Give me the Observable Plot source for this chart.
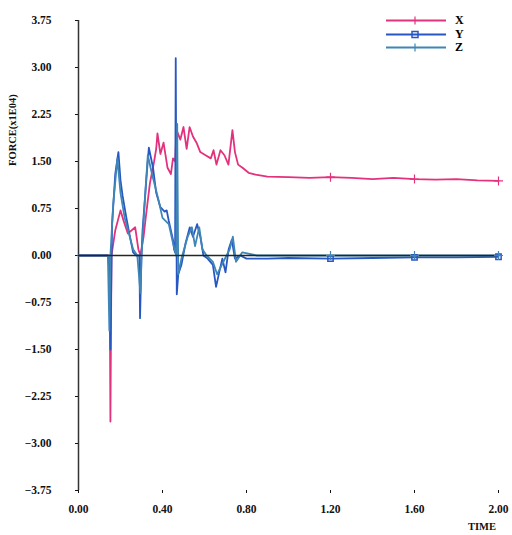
<!DOCTYPE html>
<html>
<head>
<meta charset="utf-8">
<script src="https://cdn.jsdelivr.net/npm/d3@7"></script>
<script src="https://cdn.jsdelivr.net/npm/@observablehq/plot@0.6"></script>
<style>
  html, body { margin: 0; padding: 0; background: #fff; }
  #wrap { position: relative; width: 512px; height: 535px; }
  #legend { position: absolute; left: 385px; top: 14px; font: bold 12px "Liberation Serif", serif; }
  #legend .row { display: flex; align-items: center; height: 13.5px; }
  #legend span { margin-left: 8px; }
</style>
</head>
<body>
<div id="wrap"><div id="legend"></div></div>
<script>
// ---- data (time in s, force in 1E04) ----
const seriesNames = ["X", "Y", "Z"];
const seriesColors = ["#e3327d", "#2857c4", "#3f86b6"];
const markerSymbols = ["plus", "square", "plus"];

const timeX = [0, 0.14, 0.148, 0.152, 0.157, 0.175, 0.20, 0.215, 0.235, 0.27, 0.285, 0.295, 0.31, 0.32, 0.34, 0.36, 0.37, 0.376, 0.39, 0.405, 0.424, 0.44, 0.45, 0.46, 0.467, 0.485, 0.50, 0.515, 0.529, 0.545, 0.562, 0.58, 0.605, 0.63, 0.643, 0.657, 0.676, 0.695, 0.714, 0.733, 0.745, 0.76, 0.781, 0.81, 0.843, 0.90, 1.0, 1.1, 1.2, 1.3, 1.4, 1.5, 1.6, 1.7, 1.8, 1.9, 2.0];
const forceX = [0, 0, 0, -2.65, 0, 0.4, 0.72, 0.55, 0.35, 0.45, 0.1, 0, 0.3, 0.6, 1.15, 1.5, 1.7, 1.95, 1.62, 1.8, 1.4, 1.3, 1.55, 1.5, 2.0, 1.85, 2.05, 1.7, 2.05, 1.9, 1.8, 1.65, 1.6, 1.55, 1.68, 1.45, 1.68, 1.6, 1.45, 2.0, 1.65, 1.45, 1.4, 1.32, 1.29, 1.26, 1.25, 1.24, 1.25, 1.24, 1.22, 1.24, 1.22, 1.21, 1.22, 1.2, 1.19];

const timeY = [0, 0.14, 0.148, 0.152, 0.157, 0.16, 0.175, 0.19, 0.20, 0.21, 0.228, 0.245, 0.26, 0.275, 0.29, 0.293, 0.30, 0.305, 0.325, 0.335, 0.355, 0.37, 0.39, 0.41, 0.42, 0.43, 0.44, 0.45, 0.455, 0.46, 0.463, 0.468, 0.475, 0.49, 0.51, 0.53, 0.545, 0.565, 0.58, 0.595, 0.615, 0.64, 0.655, 0.67, 0.685, 0.70, 0.715, 0.73, 0.745, 0.77, 0.80, 0.9, 1.0, 1.2, 1.4, 1.6, 1.8, 2.0];
const forceY = [0, 0, -0.3, -1.5, -0.2, 0.5, 1.3, 1.65, 1.2, 0.95, 0.6, 0.3, 0.05, 0, 0, -1.0, 0, 0.4, 1.3, 1.72, 1.4, 1.0, 0.77, 0.7, 0.72, 0.55, 0.4, 0.25, 0.1, 0.05, 3.15, -0.62, -0.3, -0.15, 0.2, 0.45, 0.3, 0.5, 0.3, 0, -0.05, -0.15, -0.5, -0.27, -0.05, -0.27, 0.1, 0.25, -0.05, 0, -0.05, -0.05, -0.04, -0.05, -0.04, -0.03, -0.03, -0.02];

const timeZ = [0, 0.14, 0.147, 0.152, 0.165, 0.185, 0.20, 0.22, 0.24, 0.26, 0.28, 0.295, 0.30, 0.32, 0.33, 0.35, 0.38, 0.40, 0.43, 0.45, 0.465, 0.47, 0.475, 0.49, 0.52, 0.54, 0.555, 0.575, 0.59, 0.61, 0.64, 0.66, 0.69, 0.72, 0.735, 0.75, 0.78, 0.85, 1.2, 1.6, 2.0];
const forceZ = [0, 0, -1.2, 0, 0.8, 1.55, 1.0, 0.6, 0.35, 0.1, 0, -0.6, 0, 1.1, 1.6, 1.3, 0.9, 0.6, 0.5, 0.2, 0, 2.1, -0.3, -0.05, 0.3, 0.45, 0.15, 0.45, 0.1, 0, -0.1, -0.3, -0.1, 0.1, 0.3, -0.1, 0.05, 0, 0, 0, 0];

const markerTimes = [1.2, 1.6, 2.0];
const xTicks = [0, 0.4, 0.8, 1.2, 1.6, 2.0];
const yTicks = [-3.75, -3.0, -2.25, -1.5, -0.75, 0, 0.75, 1.5, 2.25, 3.0, 3.75];

// ---- build table ----
const times = [timeX, timeY, timeZ];
const forces = [forceX, forceY, forceZ];
const rows = [];
seriesNames.forEach((s, i) => times[i].forEach((t, j) => rows.push({series: s, t, f: forces[i][j]})));
const markers = rows.filter(d => markerTimes.includes(d.t));
const colorScale = {domain: seriesNames, range: seriesColors};

const chart = Plot.plot({
  width: 512,
  height: 535,
  marginLeft: 78,
  marginRight: 14,
  marginTop: 20,
  marginBottom: 45,
  style: {fontFamily: "'Liberation Serif', serif", fontSize: "11.5px", fontWeight: "bold", color: "#111", background: "transparent"},
  x: {domain: [0, 2.0], ticks: xTicks, tickFormat: d3.format(".2f"), tickSize: 3, tickPadding: 11, label: null},
  y: {domain: [-3.75, 3.75], ticks: yTicks, tickFormat: d3.format(".2f"), tickSize: 3, tickPadding: 24, label: null},
  color: colorScale,
  marks: [
    Plot.ruleX([0], {stroke: "#333", strokeWidth: 1.5}),
    Plot.line(rows, {x: "t", y: "f", z: "series", stroke: "series", strokeWidth: 1.8, strokeLinejoin: "round"}),
    Plot.ruleY([0], {stroke: "#1f2a1f", strokeWidth: 1.4}),
    Plot.dot(markers.filter(d => d.series === "Y"), {x: "t", y: "f", symbol: "square", r: 3, stroke: "series", strokeWidth: 1.5}),
    Plot.dot(markers.filter(d => d.series !== "Y"), {x: "t", y: "f", symbol: "plus", r: 3, stroke: "series", strokeWidth: 1.2})
  ]
});
document.getElementById("wrap").prepend(chart);

const svg = d3.select(chart);
// y axis title
svg.append("text")
  .attr("transform", "translate(16,130) rotate(-90)")
  .attr("text-anchor", "middle")
  .attr("font-family", "'Liberation Serif', serif")
  .attr("font-weight", "bold")
  .attr("font-size", 10.5)
  .attr("fill", "#111")
  .text("FORCE(x1E04)");
// x axis title
svg.append("text")
  .attr("x", 496).attr("y", 530)
  .attr("text-anchor", "end")
  .attr("font-family", "'Liberation Serif', serif")
  .attr("font-weight", "bold")
  .attr("font-size", 10.5)
  .attr("fill", "#111")
  .text("TIME");

// legend overlay
const legend = document.getElementById("legend");
seriesNames.forEach((s, i) => {
  const row = document.createElement("div");
  row.className = "row";
  const mk = markerSymbols[i] === "square"
    ? `<rect x="27" y="2.5" width="6" height="6" fill="none" stroke="${seriesColors[i]}" stroke-width="1.5"/>`
    : `<line x1="30" y1="1.5" x2="30" y2="9.5" stroke="${seriesColors[i]}" stroke-width="1.2"/>`;
  row.innerHTML = `<svg width="62" height="11"><line x1="1" y1="5.5" x2="61" y2="5.5" stroke="${seriesColors[i]}" stroke-width="2"/>${mk}</svg><span>${s}</span>`;
  legend.appendChild(row);
});
</script>
</body>
</html>
